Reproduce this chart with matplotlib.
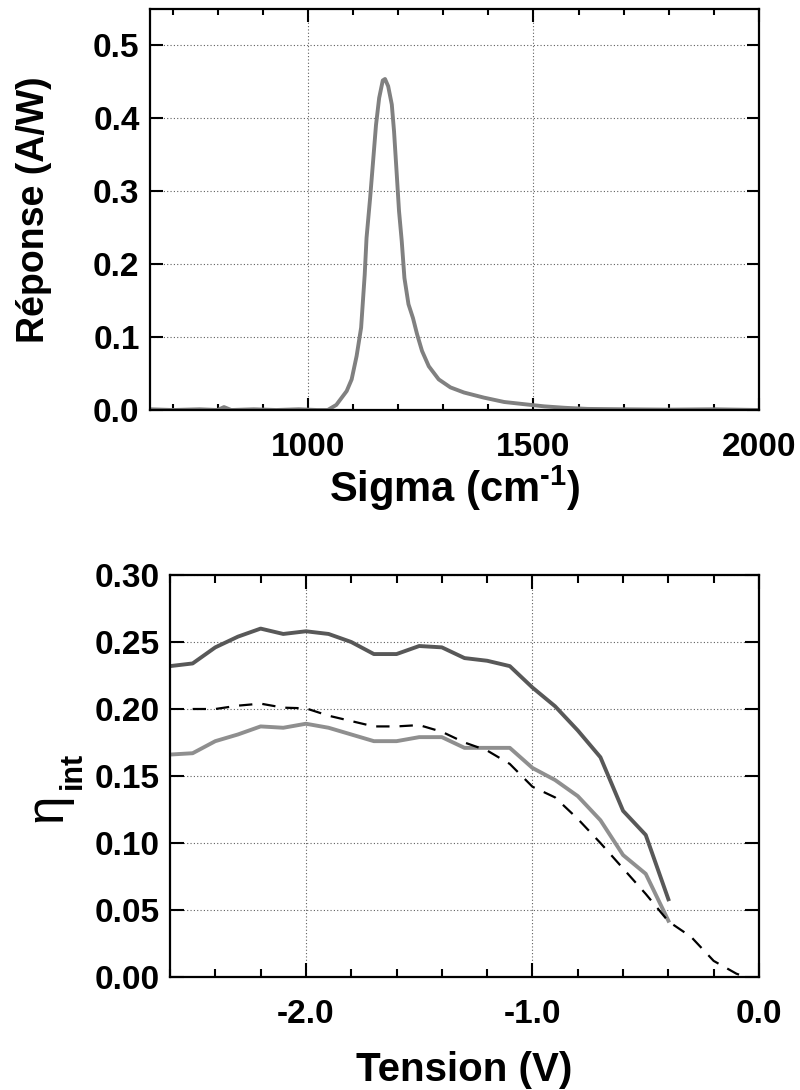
import matplotlib
matplotlib.use("Agg")
import matplotlib.pyplot as plt
import matplotlib.transforms as mtransforms
from matplotlib.ticker import MultipleLocator

# spectral response (top panel)
sigma = [650, 700, 760, 800, 814, 830, 880, 930, 980, 1020, 1044, 1063, 1086,
         1097, 1108, 1118, 1126, 1130, 1138, 1144, 1151, 1158, 1166, 1171,
         1178, 1186, 1191, 1197, 1202, 1208, 1214, 1223, 1233, 1242, 1253,
         1268, 1290, 1316, 1346, 1390, 1435, 1479, 1524, 1570, 1620, 1700,
         1800, 1900, 2000]
reponse = [0.001, 0.0, 0.001, 0.0, 0.004, 0.0, 0.001, 0.0, 0.001, 0.0, 0.0,
           0.007, 0.026, 0.042, 0.074, 0.113, 0.186, 0.236, 0.291, 0.337,
           0.391, 0.428, 0.452, 0.454, 0.444, 0.419, 0.382, 0.323, 0.273,
           0.232, 0.181, 0.145, 0.126, 0.104, 0.081, 0.060, 0.042, 0.031,
           0.024, 0.017, 0.011, 0.008, 0.005, 0.003, 0.0015, 0.001, 0.0005,
           0.001, 0.0]

# internal efficiency vs bias (bottom panel)
tension = [-2.6, -2.5, -2.4, -2.3, -2.2, -2.1, -2.0, -1.9, -1.8, -1.7, -1.6,
           -1.5, -1.4, -1.3, -1.2, -1.1, -1.0, -0.9, -0.8, -0.7, -0.6, -0.5,
           -0.4]
eta_fonce = [0.232, 0.234, 0.246, 0.254, 0.260, 0.256, 0.258, 0.256, 0.250,
             0.241, 0.241, 0.247, 0.246, 0.238, 0.236, 0.232, 0.216, 0.202,
             0.184, 0.164, 0.124, 0.106, 0.058]
eta_clair = [0.166, 0.167, 0.176, 0.181, 0.187, 0.186, 0.189, 0.186, 0.181,
             0.176, 0.176, 0.179, 0.179, 0.171, 0.171, 0.171, 0.156, 0.147,
             0.135, 0.117, 0.091, 0.077, 0.042]
tension_calc = [-2.5, -2.4, -2.3, -2.2, -2.1, -2.0, -1.9, -1.8, -1.7, -1.6,
                -1.5, -1.4, -1.3, -1.2, -1.1, -1.0, -0.9, -0.8, -0.7, -0.6,
                -0.5, -0.4, -0.3, -0.2, -0.1, -0.06]
eta_calc = [0.200, 0.200, 0.2025, 0.204, 0.201, 0.2005, 0.195, 0.191, 0.187,
            0.187, 0.188, 0.183, 0.175, 0.169, 0.159, 0.142, 0.134, 0.118,
            0.100, 0.081, 0.062, 0.0415, 0.030, 0.012, 0.0025, 0.0]

plt.rcParams["font.family"] = ["Liberation Sans", "DejaVu Sans"]
plt.rcParams["font.weight"] = "bold"
plt.rcParams["axes.labelweight"] = "bold"
plt.rcParams["mathtext.fontset"] = "custom"
plt.rcParams["mathtext.rm"] = "Liberation Sans:bold"
plt.rcParams["mathtext.bf"] = "Liberation Sans:bold"

W, H = 800, 1090
grid_kw = dict(color="#606060", linestyle=(0, (1, 2)), linewidth=0.8)


def style_axes(ax, major_len, minor_len):
    for sp in ax.spines.values():
        sp.set_linewidth(1.6)
    ax.tick_params(which="both", direction="in", top=True, right=True,
                   width=1.5, labelsize=24, pad=7.5)
    ax.tick_params(which="major", length=major_len)
    ax.tick_params(which="minor", length=minor_len)
    ax.tick_params(axis="x", which="both", pad=15.5)
    ax.grid(True, which="major", **grid_kw)
    ax.set_axisbelow(True)


fig = plt.figure(figsize=(W / 100, H / 100), dpi=100)

ax1 = fig.add_axes([150 / W, 1 - 410 / H, 609 / W, 401 / H])
ax1.plot(sigma, reponse, color="#808080", linewidth=2.8)
ax1.set_xlim(650, 2000)
ax1.set_ylim(0, 0.55)
ax1.xaxis.set_major_locator(MultipleLocator(500))
ax1.xaxis.set_minor_locator(MultipleLocator(100))
ax1.yaxis.set_major_locator(MultipleLocator(0.1))
ax1.yaxis.set_major_formatter(lambda v, p: f"{v:.1f}")
style_axes(ax1, 9, 4.5)
ax1.set_xlabel(r"Sigma (cm$^{\text{-1}}$)", fontsize=30, va="top")
ax1.xaxis.set_label_coords(0.5, 1 - 464 / H, transform=mtransforms.blended_transform_factory(ax1.transAxes, fig.transFigure))
ax1.set_ylabel("Réponse (A/W)", fontsize=27)
ax1.yaxis.set_label_coords(52 / W, 0.5, transform=mtransforms.blended_transform_factory(fig.transFigure, ax1.transAxes))

ax2 = fig.add_axes([170 / W, 1 - 977 / H, 589 / W, 402 / H])
ax2.plot(tension, eta_fonce, color="#585858", linewidth=2.8)
ax2.plot(tension, eta_clair, color="#8f8f8f", linewidth=2.8)
ax2.plot(tension_calc, eta_calc, color="black", linewidth=1.6,
         linestyle=(0, (6, 4.5)))
ax2.set_xlim(-2.6, 0.0)
ax2.set_ylim(0, 0.30)
ax2.xaxis.set_major_locator(MultipleLocator(1.0))
ax2.xaxis.set_minor_locator(MultipleLocator(0.2))
ax2.xaxis.set_major_formatter(lambda v, p: f"{v:.1f}")
ax2.yaxis.set_major_locator(MultipleLocator(0.05))
ax2.yaxis.set_major_formatter(lambda v, p: f"{v:.2f}")
style_axes(ax2, 10, 6)
ax2.set_xlabel("Tension (V)", fontsize=29, va="top")
ax2.xaxis.set_label_coords(0.5, 1 - 1051 / H, transform=mtransforms.blended_transform_factory(ax2.transAxes, fig.transFigure))

# eta with a separate, lowered "int" subscript
fig.text(61 / W, 1 - 808 / H, "η", fontsize=37, fontweight="normal",
         rotation=90, rotation_mode="anchor", ha="center", va="baseline")
fig.text(81 / W, 1 - 770 / H, "int", fontsize=22, fontweight="bold",
         rotation=90, rotation_mode="anchor", ha="center", va="baseline")

fig.savefig("out.png", dpi=100)
